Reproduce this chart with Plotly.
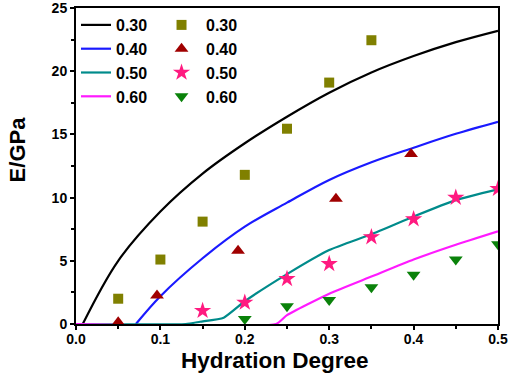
import plotly.graph_objects as go

# model curves (lines)
line_labels = ["0.30", "0.40", "0.50", "0.60"]
line_colors = ["#000000", "#1a1aff", "#008b8b", "#ff1aff"]
x_l30 = [0.008, 0.05, 0.1, 0.15, 0.2, 0.25, 0.3, 0.35, 0.4, 0.45, 0.5]
y_l30 = [0, 5.0, 8.9, 11.9, 14.3, 16.4, 18.3, 19.9, 21.2, 22.3, 23.2]
x_l40 = [0.071, 0.1, 0.15, 0.2, 0.25, 0.3, 0.35, 0.4, 0.45, 0.5]
y_l40 = [0, 2.2, 5.2, 7.7, 9.6, 11.4, 12.8, 13.95, 15.05, 16.0]
x_l50 = [0, 0.13, 0.147, 0.175, 0.2, 0.25, 0.3, 0.35, 0.4, 0.45, 0.5]
y_l50 = [0, 0, 0.18, 0.5, 1.8, 3.95, 5.85, 7.1, 8.5, 9.8, 10.65]
x_l60 = [0, 0.237, 0.25, 0.3, 0.35, 0.4, 0.45, 0.5]
y_l60 = [0, 0, 0.7, 2.4, 3.75, 5.1, 6.27, 7.33]

# experimental points (markers)
x_p30 = [0.05, 0.1, 0.15, 0.2, 0.25, 0.3, 0.35]
y_p30 = [2.0, 5.1, 8.1, 11.8, 15.45, 19.1, 22.45]
x_p40 = [0.05, 0.096, 0.192, 0.308, 0.397]
y_p40 = [0.13, 2.25, 5.8, 9.9, 13.45]
x_p50 = [0.15, 0.2, 0.25, 0.3, 0.35, 0.4, 0.45, 0.5]
y_p50 = [1.05, 1.7, 3.57, 4.76, 6.88, 8.3, 10.0, 10.7]
x_p60 = [0.2, 0.25, 0.3, 0.35, 0.4, 0.45, 0.5]
y_p60 = [0.4, 1.4, 1.9, 2.9, 3.9, 5.1, 6.3]

marker_symbols = ["square", "triangle-up", "star", "triangle-down"]
marker_colors = ["#808000", "#a00000", "#ff1a80", "#0a820a"]
marker_sizes = [10, 12, 13, 12]

line_x = [x_l30, x_l40, x_l50, x_l60]
line_y = [y_l30, y_l40, y_l50, y_l60]
line_smooth = [1.0, 1.0, 0.5, 0.5]
pt_x = [x_p30, x_p40, x_p50, x_p60]
pt_y = [y_p30, y_p40, y_p50, y_p60]

FONT = "Liberation Sans, Arial, sans-serif"

fig = go.Figure()
for i in range(4):
    fig.add_trace(go.Scatter(
        x=line_x[i], y=line_y[i], mode="lines", name=line_labels[i],
        line=dict(color=line_colors[i], width=2.2, shape="spline",
                  smoothing=line_smooth[i]),
        legend="legend"))
for i in range(4):
    fig.add_trace(go.Scatter(
        x=pt_x[i], y=pt_y[i], mode="markers", name=line_labels[i],
        marker=dict(symbol=marker_symbols[i], color=marker_colors[i],
                    size=marker_sizes[i], line=dict(width=0)),
        legend="legend2"))

axis_common = dict(
    showgrid=False, zeroline=False, showline=True, linecolor="black",
    linewidth=2, mirror=True, ticks="outside", ticklen=4, tickwidth=2,
    tickcolor="black", automargin=False, ticklabeloverflow="allow",
    tickfont=dict(family=FONT, size=14, color="black", weight="bold"),
)

fig.update_layout(
    width=512, height=380,
    margin=dict(l=76, r=14, t=8, b=56, autoexpand=False),
    paper_bgcolor="white", plot_bgcolor="white",
    font=dict(family=FONT, color="black"),
    xaxis=dict(range=[0, 0.5], dtick=0.1, tickformat=".1f",
               ticklabelstandoff=-3,
               minor=dict(ticks="outside", dtick=0.05, ticklen=3,
                          tickwidth=2, tickcolor="black"),
               **axis_common),
    yaxis=dict(range=[0, 25], dtick=5,
               minor=dict(ticks="outside", dtick=2.5, ticklen=3,
                          tickwidth=2, tickcolor="black"),
               **axis_common),
    annotations=[
        dict(text="Hydration Degree", xref="paper", yref="paper",
             x=0.4716, y=-0.114, xanchor="center", yanchor="middle",
             showarrow=False,
             font=dict(family=FONT, size=22.5, color="black", weight="bold")),
        dict(text="E/GPa", xref="paper", yref="paper", textangle=-90,
             x=0, xshift=-58.5, y=0.551, xanchor="center", yanchor="middle",
             showarrow=False,
             font=dict(family=FONT, size=22, color="black", weight="bold")),
    ],
    legend=dict(x=0.0, y=1.0, xanchor="left", yanchor="top",
                bgcolor="rgba(0,0,0,0)", borderwidth=0,
                font=dict(family=FONT, size=16, color="black", weight="bold"),
                itemwidth=30, tracegroupgap=0),
    legend2=dict(x=0.192, y=1.0, xanchor="left", yanchor="top",
                 bgcolor="rgba(0,0,0,0)", borderwidth=0,
                 font=dict(family=FONT, size=16, color="black", weight="bold"),
                 itemwidth=39, tracegroupgap=0),
    showlegend=True,
)

fig.write_html("out.html", config={"displayModeBar": False},
               post_script="document.body.style.margin='0';")
